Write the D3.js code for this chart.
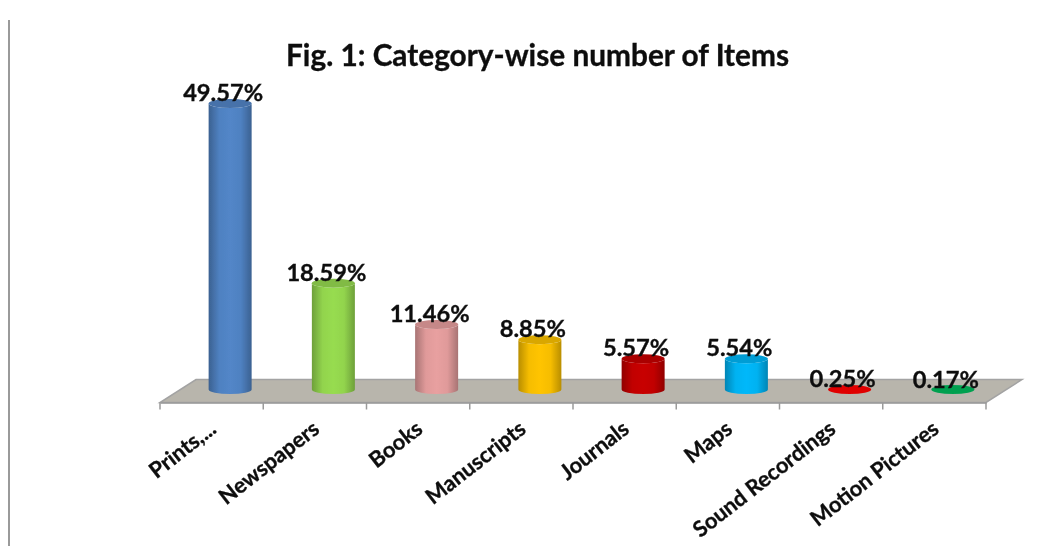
<!DOCTYPE html>
<html>
<head>
<meta charset="utf-8">
<script src="https://cdn.jsdelivr.net/npm/d3@7"></script>
<style>
  html, body { margin: 0; padding: 0; background: #fff; }
  svg { display: block; }
  text { font-family: Lato, "Open Sans", sans-serif; fill: #111; stroke: #111; stroke-width: 0.35px; }
</style>
</head>
<body>
<div id="chart"></div>
<script>
const categories = ['Prints,...', 'Newspapers', 'Books', 'Manuscripts', 'Journals', 'Maps', 'Sound Recordings', 'Motion Pictures'];
const percents = [49.57, 18.59, 11.46, 8.85, 5.57, 5.54, 0.25, 0.17];
const colors = ['#5286c8', '#97dc50', '#e8a0a0', '#ffc400', '#c80000', '#00b8fa', '#e00000', '#00a050'];
const title = 'Fig. 1: Category-wise number of Items';

const width = 1051, height = 546;
const svg = d3.select('#chart').append('svg').attr('width', width).attr('height', height);
const defs = svg.append('defs');

// the reference is a slightly soft scan
defs.append('filter').attr('id', 'soft').append('feGaussianBlur').attr('stdDeviation', 0.45);
const root = svg.append('g').attr('filter', 'url(#soft)');

const x = d3.scaleBand().domain(categories).range([160, 986]).padding(0);
const y = d3.scaleLinear().domain([0, 50]).range([391, 101]);
const depth = 36, floorRise = 23; // how far the floor runs back
const rx = 21.5, ry = 4.5;

// frame line on the left side of the page
root.append('line').attr('x1', 9).attr('x2', 9).attr('y1', 20).attr('y2', height)
  .attr('stroke', '#9a9a9a').attr('stroke-width', 2);

root.append('text').attr('x', 537.5).attr('y', 66).attr('text-anchor', 'middle')
  .attr('font-size', 29.8).attr('font-weight', 700).text(title);

// floor
const front = y(0) + floorRise / 2, back = y(0) - floorRise / 2;
root.append('path')
  .attr('d', d3.line()([[160, front], [986, front], [986 + depth, back], [160 + depth, back]]) + 'Z')
  .attr('fill', '#b8b5ac').attr('stroke', '#a3a3a3').attr('stroke-width', 1.5);

// axis, ticks sit on band edges so they are drawn separately
const axis = root.append('g').attr('transform', `translate(0,${front})`)
  .call(d3.axisBottom(x).tickSize(0).tickPadding(0));
axis.select('.domain').attr('stroke', '#9a9a9a').attr('stroke-width', 1.5);
axis.selectAll('.tick text')
  .attr('text-anchor', 'end').attr('dy', 0).attr('y', 0)
  .attr('transform', 'translate(6,29) rotate(-38)')
  .attr('font-size', 21.8).attr('font-weight', 700);

const edges = categories.map(d => x(d)).concat(x.range()[1]);
root.selectAll('.edge').data(edges).enter().append('line').attr('class', 'edge')
  .attr('x1', d => d).attr('x2', d => d).attr('y1', front).attr('y2', front + 7)
  .attr('stroke', '#9a9a9a').attr('stroke-width', 1.5);

// one horizontal gradient per cylinder
categories.forEach((c, i) => {
  const g = defs.append('linearGradient').attr('id', 'cyl' + i);
  const base = d3.color(colors[i]);
  g.append('stop').attr('offset', '0%').attr('stop-color', base.darker(0.9));
  g.append('stop').attr('offset', '25%').attr('stop-color', base.darker(0.1));
  g.append('stop').attr('offset', '50%').attr('stop-color', base);
  g.append('stop').attr('offset', '75%').attr('stop-color', base.darker(0.1));
  g.append('stop').attr('offset', '100%').attr('stop-color', base.darker(0.9));
});

const bars = root.selectAll('.bar').data(categories).enter().append('g').attr('class', 'bar')
  .attr('transform', d => `translate(${x(d) + x.bandwidth() / 2 + depth / 2 + 0.5},0)`);

const baseY = 389.5;
bars.append('path')
  .attr('d', (d, i) => {
    const top = Math.min(y(percents[i]), baseY);
    return `M${-rx},${top}L${-rx},${baseY}A${rx},${ry} 0 0 0 ${rx},${baseY}L${rx},${top}A${rx},${ry} 0 0 1 ${-rx},${top}Z`;
  })
  .attr('fill', (d, i) => `url(#cyl${i})`);

bars.append('ellipse')
  .attr('cx', 0).attr('cy', (d, i) => Math.min(y(percents[i]), baseY))
  .attr('rx', rx).attr('ry', ry)
  .attr('fill', (d, i) => percents[i] < 1 ? colors[i] : d3.color(colors[i]).darker(0.45));

// value labels
bars.append('text')
  .attr('text-anchor', 'middle')
  .attr('x', -7)
  .attr('y', (d, i) => y(percents[i]) - 2.5)
  .attr('font-size', 23.7).attr('font-weight', 700)
  .text((d, i) => percents[i].toFixed(2) + '%');
</script>
</body>
</html>
